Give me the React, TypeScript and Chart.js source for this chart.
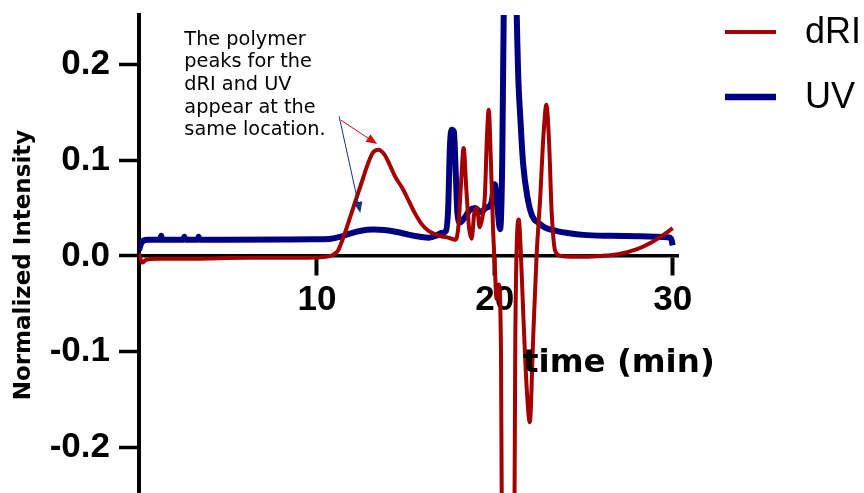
import React, { useEffect, useRef } from 'react';
import { Chart, registerables } from 'chart.js';
Chart.register(...registerables);

// ---------- data ----------
const X_TICKS = [10, 20, 30];
const Y_TICKS = [-0.2, -0.1, 0, 0.1, 0.2];

const DRI_TIME = [
  0.0, 0.1, 0.2, 0.4, 1, 3, 6, 9, 10.5, 10.9, 11.2, 11.5, 12.0, 12.5, 12.9, 13.15, 13.45, 13.8, 14.1, 14.4,
  14.8, 15.1, 15.5, 15.9, 16.3, 16.9, 17.4, 17.8, 17.95, 18.1, 18.25, 18.4, 18.55, 18.7, 18.85, 19.0, 19.15,
  19.3, 19.45, 19.55, 19.66, 19.78, 19.9, 20.0, 20.1, 20.22, 20.35, 20.45, 20.75, 21.05, 21.15, 21.25, 21.35,
  21.45, 21.6, 21.8, 21.97, 22.15, 22.35, 22.55, 22.75, 22.9, 23.05, 23.2, 23.4, 23.7, 24.5, 26, 27, 28, 28.8,
  29.4, 30.0,
];
const DRI_VAL = [
  0.003, -0.004, -0.007, -0.004, -0.003, -0.003, -0.002, -0.002, -0.001, 0.001, 0.006, 0.02, 0.048, 0.076, 0.098,
  0.108, 0.111, 0.106, 0.095, 0.083, 0.071, 0.06, 0.045, 0.033, 0.026, 0.021, 0.019, 0.017, 0.03, 0.075, 0.113,
  0.07, 0.03, 0.018, 0.045, 0.05, 0.03, 0.04, 0.065, 0.12, 0.153, 0.1, 0.03, -0.01, -0.045, -0.03, -0.1, -0.5,
  -1.0, -0.5, -0.1, 0.02, 0.038, 0.01, -0.06, -0.14, -0.174, -0.09, 0.0, 0.06, 0.13, 0.158, 0.12, 0.045, 0.005,
  0.0, -0.001, 0.0, 0.002, 0.007, 0.014, 0.021, 0.029,
];

const UV_TIME = [
  0.0, 0.1, 0.25, 0.5, 1.2, 1.25, 1.3, 2.0, 2.5, 2.55, 2.6, 3.3, 3.35, 3.4, 5, 8, 10, 10.8, 11.3, 11.8, 12.4,
  13.2, 13.8, 14.5, 15.2, 15.8, 16.3, 16.7, 17.0, 17.25, 17.38, 17.48, 17.58, 17.7, 17.8, 17.9, 18.05, 18.3,
  18.6, 18.9, 19.2, 19.5, 19.8, 20.0, 20.15, 20.3, 20.42, 20.55, 20.85, 21.15, 21.3, 21.45, 21.6, 21.85, 22.1,
  22.5, 22.9, 23.5, 24.1, 25, 26.5, 28, 29.7, 29.85, 29.95, 30.0,
];
const UV_VAL = [
  0.006, 0.012, 0.016, 0.017, 0.017, 0.021, 0.017, 0.017, 0.017, 0.02, 0.017, 0.017, 0.02, 0.017, 0.017, 0.0172,
  0.0175, 0.018, 0.02, 0.023, 0.026, 0.0275, 0.027, 0.025, 0.022, 0.02, 0.019, 0.021, 0.024, 0.026, 0.05, 0.115,
  0.132, 0.13, 0.09, 0.045, 0.035, 0.04, 0.048, 0.05, 0.046, 0.05, 0.055, 0.075, 0.05, 0.028, 0.1, 0.35, 1.0,
  0.35, 0.2, 0.14, 0.095, 0.06, 0.042, 0.034, 0.029, 0.026, 0.024, 0.022, 0.021, 0.0205, 0.0195, 0.019, 0.016,
  0.011,
];

const SERIES_LABELS = ['dRI', 'UV'];
const X_TITLE = 'time (min)';
const Y_TITLE = 'Normalized Intensity';
const NOTE_LINES = ['The polymer', 'peaks for the', 'dRI and UV', 'appear at the', 'same location.'];
// annotation anchor points in data units (time, intensity)
const NOTE_POS = [2.55, 0.226];
const RED_ARROW = [11.35, 0.142, 13.39, 0.117];
const BLUE_ARROW = [11.25, 0.146, 12.44, 0.045];

const RED = '#a30000';
const NAVY = '#000080';

const TICK_FONT = "'Liberation Sans', Arial, sans-serif";
const TITLE_FONT = "'DejaVu Sans', Verdana, sans-serif";

function arrow(ctx: CanvasRenderingContext2D, x1: number, y1: number, x2: number, y2: number, color: string) {
  const ang = Math.atan2(y2 - y1, x2 - x1);
  const hl = 11, hw = 4.5;
  ctx.save();
  ctx.strokeStyle = color;
  ctx.fillStyle = color;
  ctx.lineWidth = 1;
  ctx.beginPath();
  ctx.moveTo(x1, y1);
  ctx.lineTo(x2 - Math.cos(ang) * hl * 0.8, y2 - Math.sin(ang) * hl * 0.8);
  ctx.stroke();
  ctx.beginPath();
  ctx.moveTo(x2, y2);
  ctx.lineTo(x2 - Math.cos(ang) * hl - Math.sin(ang) * hw, y2 - Math.sin(ang) * hl + Math.cos(ang) * hw);
  ctx.lineTo(x2 - Math.cos(ang) * hl + Math.sin(ang) * hw, y2 - Math.sin(ang) * hl - Math.cos(ang) * hw);
  ctx.closePath();
  ctx.fill();
  ctx.restore();
}

const overlay = {
  id: 'overlay',
  afterDraw(chart: any) {
    const ctx: CanvasRenderingContext2D = chart.ctx;
    const xs = chart.scales.x;
    const ys = chart.scales.y;
    ctx.save();
    // y title
    ctx.save();
    ctx.translate(24, 265);
    ctx.rotate(-Math.PI / 2);
    ctx.font = `bold 23px ${TITLE_FONT}`;
    ctx.fillStyle = '#000';
    ctx.textAlign = 'center';
    ctx.textBaseline = 'middle';
    ctx.fillText(Y_TITLE, 0, 0);
    ctx.restore();
    // x title
    ctx.font = `bold 32.5px ${TITLE_FONT}`;
    ctx.fillStyle = '#000';
    ctx.textAlign = 'left';
    ctx.textBaseline = 'alphabetic';
    ctx.fillText(X_TITLE, 523, 372);
    // legend
    const legend = [
      { label: SERIES_LABELS[0], color: RED, w: 4, y: 32 },
      { label: SERIES_LABELS[1], color: NAVY, w: 6.5, y: 97 },
    ];
    ctx.font = `36px ${TICK_FONT}`;
    ctx.textBaseline = 'middle';
    for (const l of legend) {
      ctx.strokeStyle = l.color;
      ctx.lineWidth = l.w;
      ctx.beginPath();
      ctx.moveTo(725, l.y);
      ctx.lineTo(776, l.y);
      ctx.stroke();
      ctx.fillStyle = '#000';
      ctx.fillText(l.label, 805, l.y + 1);
    }
    // annotation
    ctx.font = `19.3px ${TITLE_FONT}`;
    ctx.fillStyle = '#000';
    ctx.textBaseline = 'middle';
    const nx = xs.getPixelForValue(NOTE_POS[0]);
    const ny = ys.getPixelForValue(NOTE_POS[1]);
    NOTE_LINES.forEach((t, i) => ctx.fillText(t, nx, ny + i * 22.6));
    arrow(ctx, xs.getPixelForValue(RED_ARROW[0]), ys.getPixelForValue(RED_ARROW[1]),
      xs.getPixelForValue(RED_ARROW[2]), ys.getPixelForValue(RED_ARROW[3]), '#d01010');
    arrow(ctx, xs.getPixelForValue(BLUE_ARROW[0]), ys.getPixelForValue(BLUE_ARROW[1]),
      xs.getPixelForValue(BLUE_ARROW[2]), ys.getPixelForValue(BLUE_ARROW[3]), '#1a2f80');
    ctx.restore();
  },
};

export default function App() {
  const ref = useRef<HTMLCanvasElement | null>(null);
  useEffect(() => {
    if (!ref.current) return;
    const chart = new Chart(ref.current, {
      type: 'line',
      data: {
        datasets: [
          {
            label: SERIES_LABELS[0],
            data: DRI_TIME.map((t, i) => ({ x: t, y: DRI_VAL[i] })),
            borderColor: RED,
            borderWidth: 4,
            pointRadius: 0,
            cubicInterpolationMode: 'monotone',
            order: 0,
          },
          {
            label: SERIES_LABELS[1],
            data: UV_TIME.map((t, i) => ({ x: t, y: UV_VAL[i] })),
            borderColor: NAVY,
            borderWidth: 6,
            pointRadius: 0,
            cubicInterpolationMode: 'monotone',
            order: 1,
          },
        ],
      },
      options: {
        animation: false,
        responsive: false,
        maintainAspectRatio: false,
        layout: { padding: { left: 0, top: 15, right: 186, bottom: 0 } },
        plugins: { legend: { display: false }, tooltip: { enabled: false } },
        scales: {
          x: {
            type: 'linear',
            min: 0,
            max: 30.3,
            position: { y: 0 },
            afterBuildTicks: (s: any) => { s.ticks = X_TICKS.map((v) => ({ value: v })); },
            grid: { drawOnChartArea: false, drawTicks: true, tickLength: 18, tickWidth: 4, tickColor: '#000' },
            border: { display: true, width: 3.5, color: '#000' },
            ticks: {
              color: '#000',
              padding: 5,
              maxRotation: 0,
              autoSkip: false,
              font: { family: TICK_FONT, size: 35, weight: 'bold' },
            },
          },
          y: {
            type: 'linear',
            min: -0.248,
            max: 0.252,
            position: 'left',
            afterFit: (s: any) => { s.width = 139; s.paddingTop = 0; s.paddingBottom = 0; },
            afterBuildTicks: (s: any) => { s.ticks = Y_TICKS.map((v) => ({ value: v })); },
            grid: { drawOnChartArea: false, drawTicks: true, tickLength: 20, tickWidth: 3.5, tickColor: '#000' },
            border: { display: true, width: 4, color: '#000' },
            ticks: {
              color: '#000',
              padding: 9,
              autoSkip: false,
              callback: (v: any) => Number(v).toFixed(1),
              font: { family: TICK_FONT, size: 35, weight: 'bold', lineHeight: 0.02 },
            },
          },
        },
      },
      plugins: [overlay],
    } as any);
    return () => chart.destroy();
  }, []);
  return (
    <div style={{ position: 'fixed', left: 0, top: 0, width: 864, height: 493, background: '#fff' }}>
      <canvas ref={ref} width={864} height={493} style={{ width: 864, height: 493, display: 'block' }} />
    </div>
  );
}
